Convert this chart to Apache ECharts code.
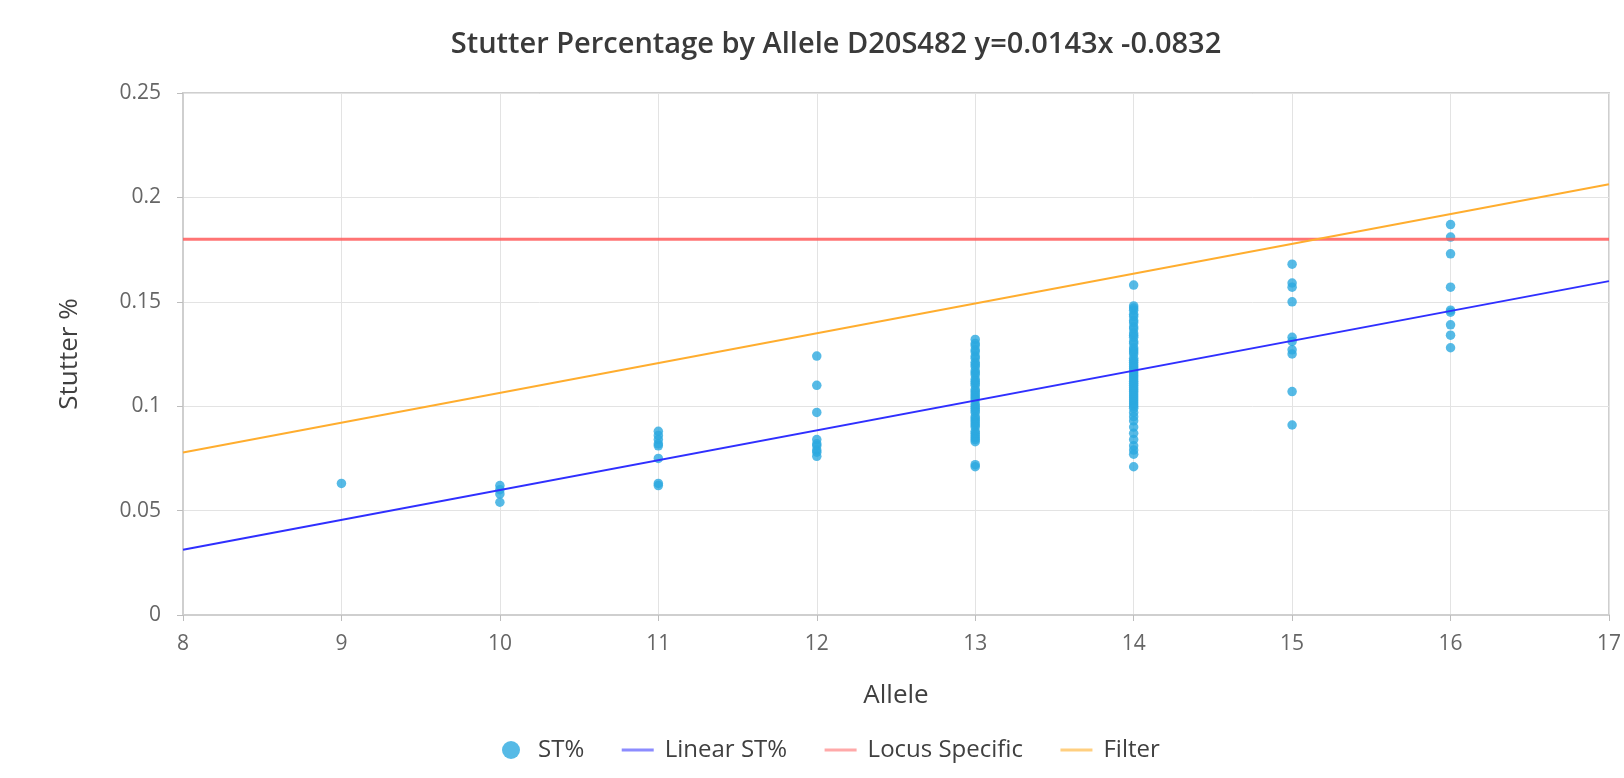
<!DOCTYPE html>
<html>
<head>
<meta charset="utf-8">
<title>Stutter Percentage by Allele D20S482</title>
<script src="https://cdn.jsdelivr.net/npm/echarts@6/dist/echarts.min.js"></script>
<style>
  html, body { margin: 0; padding: 0; background: #fff; }
  #chart { width: 1624px; height: 778px; }
</style>
</head>
<body>
<div id="chart"></div>
<script>
// Observed stutter ratios per allele
const allele9  = [0.063];
const allele10 = [0.062, 0.060, 0.058, 0.054];
const allele11 = [0.088, 0.086, 0.084, 0.082, 0.081, 0.075, 0.063, 0.062];
const allele12 = [0.124, 0.110, 0.097, 0.084, 0.082, 0.081, 0.079, 0.078, 0.076];
const allele13 = [0.132, 0.130, 0.129, 0.127, 0.126, 0.124, 0.123, 0.121, 0.120, 0.119,
                  0.117, 0.116, 0.115, 0.113, 0.112, 0.111, 0.110, 0.108, 0.107, 0.106,
                  0.105, 0.104, 0.103, 0.101, 0.100, 0.099, 0.098, 0.097, 0.095, 0.094,
                  0.093, 0.092, 0.091, 0.090, 0.088, 0.087, 0.086, 0.085, 0.084, 0.083,
                  0.072, 0.071];
const allele14 = [0.158, 0.148, 0.147, 0.146, 0.144, 0.143, 0.141, 0.140, 0.138, 0.137,
                  0.135, 0.134, 0.133, 0.131, 0.130, 0.128, 0.127, 0.126, 0.125, 0.123,
                  0.122, 0.121, 0.120, 0.119, 0.118, 0.117, 0.116, 0.115, 0.114, 0.113,
                  0.112, 0.111, 0.110, 0.109, 0.108, 0.107, 0.106, 0.105, 0.104, 0.103,
                  0.102, 0.101, 0.100, 0.099, 0.097, 0.095, 0.093, 0.090, 0.087, 0.084,
                  0.081, 0.079, 0.077, 0.071];
const allele15 = [0.168, 0.159, 0.157, 0.150, 0.133, 0.131, 0.127, 0.125, 0.107, 0.091];
const allele16 = [0.187, 0.181, 0.173, 0.157, 0.146, 0.145, 0.139, 0.134, 0.128];

const alleles = [9, 10, 11, 12, 13, 14, 15, 16];
const stutterValues = [allele9, allele10, allele11, allele12, allele13, allele14, allele15, allele16];

// Regression from the title: y = 0.0143x - 0.0832
const slope = 0.0143;
const intercept = -0.0832;
const lineX = [8, 17];

// Locus-specific threshold and filter line end points
const locusSpecific = [0.180, 0.180];
const filterLine = [0.0778, 0.2063];

const xTicks = { min: 8, max: 17, interval: 1 };
const yTicks = { min: 0, max: 0.25, interval: 0.05 };

const scatterData = [];
alleles.forEach((a, i) => stutterValues[i].forEach(v => scatterData.push([a, v])));
const linearData = lineX.map(x => [x, slope * x + intercept]);
const locusData = lineX.map((x, i) => [x, locusSpecific[i]]);
const filterData = lineX.map((x, i) => [x, filterLine[i]]);

const font = '"Open Sans", "Noto Sans", sans-serif';

const chart = echarts.init(document.getElementById('chart'), null, { renderer: 'canvas' });
chart.setOption({
  animation: false,
  backgroundColor: '#ffffff',
  title: {
    text: 'Stutter Percentage by Allele D20S482 y=0.0143x -0.0832',
    left: 831,
    textAlign: 'center',
    top: 25,
    textStyle: { fontFamily: font, fontSize: 29, fontWeight: 600, color: '#3a3a3a' }
  },
  grid: {
    left: 183, right: 11, top: 93, bottom: 163,
    show: true, borderColor: '#cfcfcf', borderWidth: 2, backgroundColor: 'transparent'
  },
  legend: {
    left: 497,
    top: 733,
    itemWidth: 32,
    itemHeight: 18,
    itemGap: 36,
    textStyle: { fontFamily: font, fontSize: 24, color: '#404040', padding: [0, 0, 0, 6] },
    data: [
      { name: 'ST%', icon: 'circle' },
      { name: 'Linear ST%', itemStyle: { opacity: 0 }, lineStyle: { color: '#8c8cff', width: 3 } },
      { name: 'Locus Specific', itemStyle: { opacity: 0 }, lineStyle: { color: '#ff9a9a', width: 3 } },
      { name: 'Filter', itemStyle: { opacity: 0 }, lineStyle: { color: '#ffcf80', width: 3 } }
    ]
  },
  xAxis: {
    type: 'value',
    min: xTicks.min, max: xTicks.max, interval: xTicks.interval,
    name: 'Allele',
    nameLocation: 'middle',
    nameGap: 68,
    nameTextStyle: { fontFamily: font, fontSize: 26, color: '#404040' },
    axisLine: { show: true, lineStyle: { color: '#cfcfcf', width: 2 } },
    axisTick: { show: true, length: 6, lineStyle: { color: '#bdbdbd' } },
    axisLabel: { margin: 19, fontFamily: font, fontSize: 21, color: '#666' },
    splitLine: { show: true, lineStyle: { color: '#e3e3e3', width: 1 } }
  },
  yAxis: {
    type: 'value',
    min: yTicks.min, max: yTicks.max, interval: yTicks.interval,
    name: 'Stutter %',
    nameLocation: 'middle',
    nameGap: 100,
    nameTextStyle: { fontFamily: font, fontSize: 26, color: '#404040' },
    axisLine: { show: true, lineStyle: { color: '#cfcfcf', width: 2 } },
    axisTick: { show: true, length: 6, lineStyle: { color: '#bdbdbd' } },
    axisLabel: { margin: 22, fontFamily: font, fontSize: 21, color: '#666' },
    splitLine: { show: true, lineStyle: { color: '#e3e3e3', width: 1 } }
  },
  series: [
    {
      name: 'ST%',
      type: 'scatter',
      data: scatterData,
      symbolSize: 9.5,
      itemStyle: { color: '#2ca9e0' },
      z: 3
    },
    {
      name: 'Linear ST%',
      type: 'line',
      data: linearData,
      showSymbol: false,
      symbol: 'none',
      lineStyle: { color: '#2f2fff', width: 2 },
      z: 4
    },
    {
      name: 'Locus Specific',
      type: 'line',
      data: locusData,
      showSymbol: false,
      symbol: 'none',
      lineStyle: { color: '#ff5c5c', width: 3, opacity: 0.85 },
      z: 4
    },
    {
      name: 'Filter',
      type: 'line',
      data: filterData,
      showSymbol: false,
      symbol: 'none',
      lineStyle: { color: '#ffad2e', width: 2 },
      z: 4
    }
  ]
});
</script>
</body>
</html>
